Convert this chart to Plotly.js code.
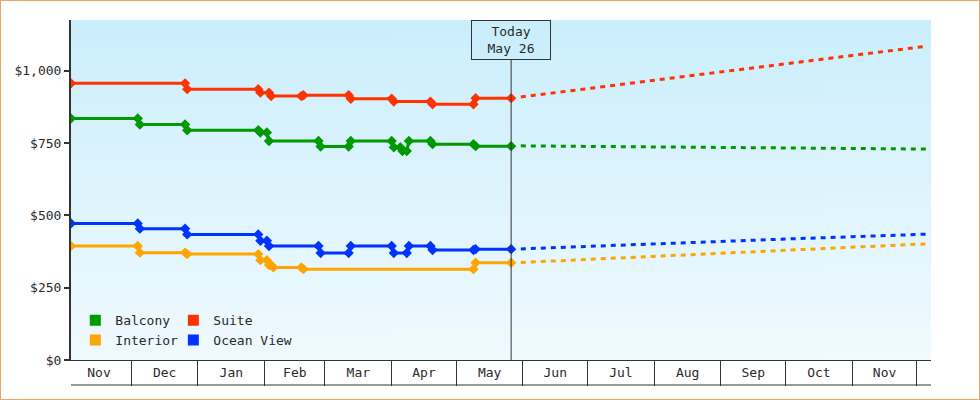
<!DOCTYPE html>
<html>
<head>
<meta charset="utf-8">
<script src="https://cdn.plot.ly/plotly-3.0.1.min.js"></script>
<style>
    body { margin: 0; background: #fff; }
    #wrap { position: relative; width: 980px; height: 400px; }
    #chart { position: absolute; left: 0; top: 0; width: 980px; height: 400px; }
    #frame { position: absolute; left: 0; top: 0; width: 980px; height: 400px; box-sizing: border-box; border: 1px solid #e6a862; pointer-events: none; }
</style>
</head>
<body>
<div id="wrap">
    <div id="chart"></div>
    <div id="frame"></div>
</div>
<script>
// price history (points where the price was observed / changed)
let suiteDates = ['2022-11-03', '2022-12-26', '2022-12-27', '2023-01-29', '2023-01-30', '2023-02-03', '2023-02-04',
    '2023-02-18', '2023-02-19', '2023-03-12', '2023-03-13', '2023-04-01', '2023-04-02', '2023-04-19', '2023-04-20',
    '2023-05-09', '2023-05-10', '2023-05-26 12:00']
let suitePrices = [956, 956, 936, 936, 924, 924, 912, 912, 915, 915, 903, 903, 893, 893, 884, 884, 905, 905]

let balconyDates = ['2022-11-03', '2022-12-04', '2022-12-05', '2022-12-26', '2022-12-27', '2023-01-29', '2023-01-30',
    '2023-02-02', '2023-02-03', '2023-02-26', '2023-02-27', '2023-03-12', '2023-03-13', '2023-04-01', '2023-04-02',
    '2023-04-05', '2023-04-06', '2023-04-08', '2023-04-09', '2023-04-19', '2023-04-20', '2023-05-09', '2023-05-10',
    '2023-05-26 12:00']
let balconyPrices = [835, 835, 814, 814, 794, 794, 786, 786, 757, 757, 738, 738, 757, 757, 735, 735, 722, 722, 757,
    757, 746, 746, 739, 739]

let oceanDates = ['2022-11-03', '2022-12-04', '2022-12-05', '2022-12-26', '2022-12-27', '2023-01-29', '2023-01-30',
    '2023-02-02', '2023-02-03', '2023-02-26', '2023-02-27', '2023-03-12', '2023-03-13', '2023-04-01', '2023-04-02',
    '2023-04-08', '2023-04-09', '2023-04-19', '2023-04-20', '2023-05-09', '2023-05-10', '2023-05-26 12:00']
let oceanPrices = [472, 472, 454, 454, 434, 434, 412, 412, 394, 394, 370, 370, 394, 394, 370, 370, 394, 394, 380,
    380, 383, 383]

let interiorDates = ['2022-11-03', '2022-12-04', '2022-12-05', '2022-12-26', '2022-12-27', '2023-01-29', '2023-01-30',
    '2023-02-02', '2023-02-03', '2023-02-04', '2023-02-05', '2023-02-18', '2023-02-19', '2023-05-09', '2023-05-10',
    '2023-05-26 12:00']
let interiorPrices = [394, 394, 371, 371, 366, 366, 345, 345, 328, 328, 320, 320, 314, 314, 336, 336]

// forecast
let forecastDates = ['2023-05-31', '2023-07-01', '2023-08-01', '2023-09-01', '2023-10-01', '2023-11-01',
    '2023-12-01', '2023-12-06']
let suiteForecast = [909, 938, 967, 996, 1025, 1054, 1082, 1085]
let balconyForecast = [740, 738, 736, 734, 733, 731, 729, 729]
let oceanForecast = [384, 393, 401, 410, 418, 426, 434, 435]
let interiorForecast = [337, 348, 359, 369, 379, 390, 400, 401]

// axes
let monthStarts = ['2022-12-01', '2023-01-01', '2023-02-01', '2023-03-01', '2023-04-01', '2023-05-01',
    '2023-06-01', '2023-07-01', '2023-08-01', '2023-09-01', '2023-10-01', '2023-11-01', '2023-12-01']
let monthLabels = ['Nov', 'Dec', 'Jan', 'Feb', 'Mar', 'Apr', 'May', 'Jun', 'Jul', 'Aug', 'Sep', 'Oct', 'Nov']
let priceTicks = [0, 250, 500, 750, 1000]
let priceLabels = ['$0', '$250', '$500', '$750', '$1,000']

let today = '2023-05-26 12:00'
let todayLabel = 'May 26'
let xRange = ['2022-11-03', '2023-12-07 14:00']
let yRange = [0, 1175]

let colors = { Balcony: '#009900', Suite: '#ff3300', Interior: '#ffa500', 'Ocean View': '#0033ff' }
let font = { family: 'DejaVu Sans Mono, monospace', size: 13, color: '#2a2a2a' }

function gradientImage() {
    let canvas = document.createElement('canvas')
    canvas.width = 4
    canvas.height = 256
    let ctx = canvas.getContext('2d')
    let g = ctx.createLinearGradient(0, 0, 0, 256)
    g.addColorStop(0, '#cbeefc')
    g.addColorStop(1, '#f0faff')
    ctx.fillStyle = g
    ctx.fillRect(0, 0, 4, 256)
    return canvas.toDataURL()
}

// labels sit in the middle of each month cell
function labelPositions() {
    let bounds = [xRange[0]].concat(monthStarts)
    let pos = []
    for (let i = 0; i < monthLabels.length; i++) {
        let a = new Date(bounds[i]).getTime()
        let b = new Date(bounds[i + 1]).getTime()
        if (i == 0)
            a = new Date('2022-11-01').getTime()
        pos.push(new Date((a + b) / 2).toISOString().slice(0, 16).replace('T', ' '))
    }
    return pos
}

function history(name, x, y) {
    return { x: x, y: y, mode: 'lines+markers', name: name, showlegend: false,
        line: { color: colors[name], width: 3 },
        marker: { symbol: 'diamond', size: 8, color: colors[name] }, hoverinfo: 'skip' }
}

function forecast(name, y) {
    return { x: forecastDates, y: y, mode: 'lines', name: name, showlegend: false,
        line: { color: colors[name], width: 3, dash: '5px,5px' }, hoverinfo: 'skip' }
}

function legendEntry(name, legend) {
    return { x: [null], y: [null], mode: 'markers', name: name, legend: legend,
        marker: { symbol: 'square', size: 11, color: colors[name] } }
}

let data = [
    history('Interior', interiorDates, interiorPrices),
    history('Ocean View', oceanDates, oceanPrices),
    history('Balcony', balconyDates, balconyPrices),
    history('Suite', suiteDates, suitePrices),
    forecast('Interior', interiorForecast),
    forecast('Ocean View', oceanForecast),
    forecast('Balcony', balconyForecast),
    forecast('Suite', suiteForecast),
    legendEntry('Balcony', 'legend'),
    legendEntry('Interior', 'legend'),
    legendEntry('Suite', 'legend2'),
    legendEntry('Ocean View', 'legend2'),
]

let legendStyle = { y: 0.161, yanchor: 'top', xanchor: 'left', bgcolor: 'rgba(0,0,0,0)', font: font,
    itemwidth: 30, tracegroupgap: 0 }

let layout = {
    width: 980,
    height: 400,
    margin: { l: 71, r: 49, t: 20, b: 40 },
    paper_bgcolor: '#fff',
    plot_bgcolor: 'rgba(0,0,0,0)',
    font: font,
    hovermode: false,
    showlegend: true,
    legend: Object.assign({ x: 0.005 }, legendStyle),
    legend2: Object.assign({ x: 0.119 }, legendStyle),
    xaxis: {
        type: 'date',
        range: xRange,
        showgrid: false,
        zeroline: false,
        showline: true,
        linecolor: '#333',
        linewidth: 1,
        tickmode: 'array',
        tickvals: labelPositions(),
        ticktext: monthLabels,
        ticks: '',
        tickfont: font,
        minor: { tickmode: 'array', tickvals: monthStarts, ticks: 'outside', ticklen: 25, tickwidth: 1, tickcolor: '#333', showgrid: false },
    },
    yaxis: {
        range: yRange,
        showgrid: false,
        zeroline: false,
        showline: true,
        linecolor: '#333',
        linewidth: 2,
        tickmode: 'array',
        tickvals: priceTicks,
        ticktext: priceLabels,
        ticks: 'outside',
        ticklen: 5,
        tickwidth: 2,
        tickcolor: '#333',
        tickfont: font,
    },
    images: [{ source: gradientImage(), xref: 'paper', yref: 'paper', x: 0, y: 1, sizex: 1, sizey: 1,
        sizing: 'stretch', layer: 'below', xanchor: 'left', yanchor: 'top' }],
    shapes: [
        { type: 'line', xref: 'x', yref: 'paper', x0: today, x1: today, y0: 0, y1: 1, line: { color: '#333', width: 1 } },
        { type: 'line', xref: 'paper', yref: 'paper', ysizemode: 'pixel', yanchor: 0, x0: 0, x1: 1, y0: -25, y1: -25,
            line: { color: '#333', width: 1 } },
    ],
    annotations: [{
        x: today, xref: 'x', y: 1, yref: 'paper', yanchor: 'top', showarrow: false,
        text: 'Today<br>' + todayLabel, font: font, align: 'center',
        bordercolor: '#333', borderwidth: 1, borderpad: 3, bgcolor: '#cbeefc', width: 72,
    }],
}

Plotly.newPlot('chart', data, layout, { staticPlot: true })
</script>
</body>
</html>
